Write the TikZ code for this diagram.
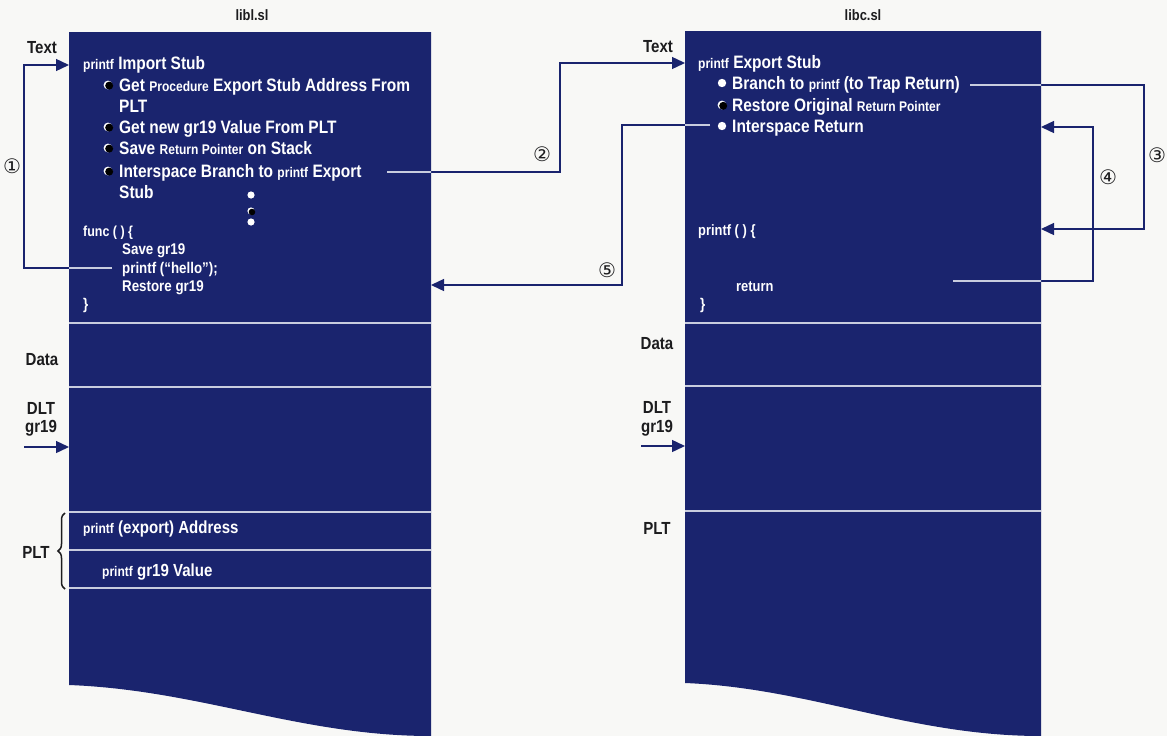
\documentclass[tikz,border=0pt]{standalone}
\usepackage{fontspec}
\setmainfont{Liberation Sans}[FakeStretch=0.86]
\newfontfamily\djv{DejaVu Sans}
\usetikzlibrary{arrows.meta,decorations.pathreplacing}
\definecolor{navy}{RGB}{26,36,110}
\definecolor{paper}{RGB}{248,248,246}
\definecolor{inkc}{RGB}{28,28,30}
\definecolor{sepc}{RGB}{200,204,222}
\newcommand\sm[1]{{\fontsize{14}{15}\selectfont #1}}
\newcommand\linkpaths[1]{%
  \draw[#1] (s1) -| (k1) |- (t1);
  \draw[#1] (s2) -| (k2) |- (t2);
  \draw[#1] (s3) -| (k3) |- (t3);
  \draw[#1] (s4) -| (k4) |- (t4);
  \draw[#1] (s5) -| (k5) |- (t5);
}
\tikzset{
  lbl/.style={font=\fontsize{17.5}{19}\selectfont\bfseries, text=inkc, inner sep=0pt},
  big/.style={anchor=base west, inner sep=0pt, text=white, font=\fontsize{18}{20}\selectfont\bfseries},
  code/.style={anchor=base west, inner sep=0pt, text=white, font=\fontsize{15.5}{17}\selectfont\bfseries},
  num/.style={font=\djv\fontsize{20}{22}\selectfont, text=inkc, inner sep=0pt},
  sepline/.style={draw=sepc, line width=1.3pt},
  conn/.style={draw=navy, line width=1.4pt, -{Triangle[length=13pt,width=12pt]}},
  innerconn/.style={draw=sepc, line width=1.3pt},
  wdot/.style={fill=white},
  bdot/.style={fill=black}
}
\begin{document}
\begin{tikzpicture}[x=1pt,y=-1pt]
\useasboundingbox (0,0) rectangle (1167,736);
\fill[paper] (0,0) rectangle (1167,736);

% blocks
\fill[navy] (69,32) -- (431,32) -- (431,736) .. controls (300,736) and (200,690) .. (69,685) -- cycle;
\fill[navy] (685,31) -- (1041,31) -- (1041,736) .. controls (910,736) and (810,688) .. (685,683) -- cycle;

% separators
\foreach \yy in {323,387,512,550,588} \draw[sepline] (69,\yy) -- (431,\yy);
\foreach \yy in {323,386,511} \draw[sepline] (685,\yy) -- (1041,\yy);

% outside labels
\node[lbl, font=\fontsize{15}{17}\selectfont\bfseries] (libl) at (252,15) {libl.sl};
\node[lbl] (ltext) at (42,48) {Text};
\node[lbl] (ldata) at (42,360) {Data};
\node[lbl] (ldlt) at (41,408) {DLT};
\node[lbl] (lgr) at (41,428) {gr19};
\node[lbl] (lplt) at (36,552) {PLT};

\node[lbl, font=\fontsize{15}{17}\selectfont\bfseries] (libc) at (863,15) {libc.sl};
\node[lbl] (rtext) at (658,47) {Text};
\node[lbl] (rdata) at (657,344) {Data};
\node[lbl] (rdlt) at (657,407) {DLT};
\node[lbl] (rgr) at (657,428) {gr19};
\node[lbl] (rplt) at (657,528) {PLT};

% brace
\draw[inkc, line width=1.5pt, decorate, decoration={brace, amplitude=7pt}] (65,589) -- (65,513);

% left block text
\node[big] (limp) at (83,69) {\sm{printf} Import Stub};
\node[big] (lb1) at (119,91) {Get \sm{Procedure} Export Stub Address From};
\node[big] (lb1b) at (119,112) {PLT};
\node[big] (lb2) at (119,133) {Get new gr19 Value From PLT};
\node[big] (lb3) at (119,154) {Save \sm{Return Pointer} on Stack};
\node[big] (lb4) at (119,177) {Interspace Branch to \sm{printf} Export};
\node[big] (lb4b) at (119,198) {Stub};
\node[code, font=\fontsize{14.5}{16}\selectfont\bfseries] (lfunc) at (83,236) {func ( ) \{};
\node[code] (lsave) at (122,254) {Save gr19};
\node[code] (lhello) at (122,273) {printf (“hello”);};
\node[code] (lrest) at (122,291) {Restore gr19};
\node[code] (lclose) at (83,309) {\}};
\node[code, font=\fontsize{17.5}{19}\selectfont\bfseries] (laddr) at (83,533) {\sm{printf} (export) Address};
\node[code, font=\fontsize{17.5}{19}\selectfont\bfseries] (lval) at (102,576) {\sm{printf} gr19 Value};

% left bullets
\foreach \yy in {85,127,148,171} {
  \fill[wdot] (108,\yy) circle (4.4);
  \fill[bdot] (109.2,\yy+0.6) circle (4);
}
\fill[wdot] (251,195) circle (3.6);
\fill[wdot] (251,211) circle (3.6);
\fill[bdot] (252,212) circle (3.3);
\fill[wdot] (251,222) circle (3.6);

% right block text
\node[big] (rexp) at (698,68) {\sm{printf} Export Stub};
\node[big] (rb1) at (732,89) {Branch to \sm{printf} (to Trap Return)};
\node[big] (rb2) at (732,111) {Restore Original \sm{Return Pointer}};
\node[big] (rb3) at (732,132) {Interspace Return};
\node[code, font=\fontsize{15}{16}\selectfont\bfseries] (rprintf) at (698,235) {printf ( ) \{};
\node[code, font=\fontsize{15}{16}\selectfont\bfseries] (rret) at (736,291) {return};
\node[code] (rclose) at (700,309) {\}};

\fill[wdot] (722,83) circle (4.2);
\fill[wdot] (722,105) circle (4.4);
\fill[bdot] (723.2,105.8) circle (4);
\fill[wdot] (722,126) circle (4.2);

% connector coordinates
\coordinate (s1) at (112,268); \coordinate (k1) at (24,166); \coordinate (t1) at (69,65);
\coordinate (s2) at (387,172); \coordinate (k2) at (560,120); \coordinate (t2) at (685,63);
\coordinate (s3) at (970,85);  \coordinate (k3) at (1144,150); \coordinate (t3) at (1041,229);
\coordinate (s4) at (953,281); \coordinate (k4) at (1093,200); \coordinate (t4) at (1041,127);
\coordinate (s5) at (710,125); \coordinate (k5) at (622,200); \coordinate (t5) at (431,285);
\coordinate (d1s) at (24,447); \coordinate (d1t) at (69,447);
\coordinate (d2s) at (641,446); \coordinate (d2t) at (685,446);

\linkpaths{conn}
\draw[conn] (d1s) -- (d1t);
\draw[conn] (d2s) -- (d2t);
\begin{scope}
  \clip (69,32) rectangle (431,323) (685,31) rectangle (1041,323);
  \linkpaths{innerconn}
\end{scope}

% step numbers
\node[num] (n1) at (12,166) {①};
\node[num] (n2) at (542,154) {②};
\node[num] (n3) at (1157,155) {③};
\node[num] (n4) at (1108,177) {④};
\node[num] (n5) at (607,270) {⑤};
\end{tikzpicture}
\end{document}
